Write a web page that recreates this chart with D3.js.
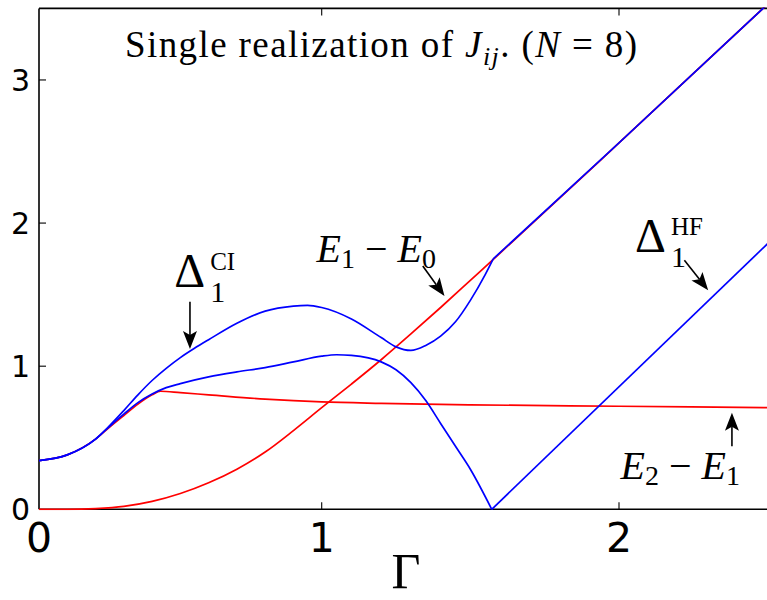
<!DOCTYPE html>
<html>
<head>
<meta charset="utf-8">
<script src="https://cdn.jsdelivr.net/npm/d3@7"></script>
<style>
  html, body { margin: 0; padding: 0; background: #fff; }
  svg { display: block; }
</style>
</head>
<body>
<svg id="chart" width="767" height="600"></svg>
<script>
// Ground-state gap E1 - E0 versus transverse field Γ
const e10Gamma = [0, 0.1, 0.2, 0.3, 0.4, 0.5, 0.6, 0.7, 0.8, 0.9, 1.0, 1.1, 1.2, 1.3, 1.4, 1.5, 1.6, 2.0, 2.5];
const e10Gap   = [0, 0, 0.005, 0.02, 0.055, 0.11, 0.185, 0.28, 0.40, 0.55, 0.71, 0.875, 1.045, 1.225, 1.41, 1.60, 1.79, 2.56, 3.53];

// Second gap E2 - E1
const e21Gamma = [0, 0.1, 0.2, 0.25, 0.3, 0.35, 0.4, 0.43, 0.5, 0.6, 0.8, 1.0, 1.2, 1.5, 2.0, 2.5];
const e21Gap   = [0.34, 0.38, 0.49, 0.575, 0.655, 0.735, 0.80, 0.825, 0.815, 0.80, 0.77, 0.75, 0.74, 0.73, 0.72, 0.71];

// Configuration-interaction gap Δ1^CI: smooth branch, then the branch on top of E1 - E0
const ciGamma = [0, 0.1, 0.2, 0.25, 0.3, 0.35, 0.4, 0.45, 0.5, 0.55, 0.6, 0.7, 0.8, 0.9, 0.95, 1.0, 1.1, 1.2, 1.25, 1.3, 1.35, 1.4, 1.45, 1.5, 1.55, 1.577];
const ciGap   = [0.34, 0.38, 0.49, 0.585, 0.69, 0.80, 0.90, 0.985, 1.06, 1.125, 1.185, 1.30, 1.385, 1.42, 1.425, 1.41, 1.33, 1.20, 1.135, 1.11, 1.145, 1.21, 1.31, 1.46, 1.64, 1.75];
const ciHighGamma = [1.577, 2.0, 2.5];
const ciHighGap   = [1.75, 2.56, 3.53];

// Hartree-Fock gap Δ1^HF: smooth branch up to the cusp, then the straight branch
const hfGamma = [0, 0.1, 0.2, 0.25, 0.3, 0.35, 0.4, 0.45, 0.5, 0.6, 0.7, 0.8, 0.9, 1.0, 1.05, 1.1, 1.2, 1.25, 1.3, 1.35, 1.4, 1.45, 1.5, 1.572];
const hfGap   = [0.34, 0.38, 0.49, 0.58, 0.665, 0.745, 0.805, 0.85, 0.878, 0.925, 0.96, 0.99, 1.03, 1.07, 1.08, 1.075, 1.03, 0.975, 0.885, 0.76, 0.60, 0.44, 0.28, 0];
const hfLineGamma = [1.572, 2.5];
const hfLineGap   = [0, 1.856];

const xTicks = [0, 1, 2];
const yTicks = [0, 1, 2, 3];

const W = 767, H = 600;
const plotLeft = 39, plotTop = 8.4, plotBottom = 509.3, plotRight = 767.6;

const svg = d3.select("#chart");

// the Γ axis is drawn piecewise between its labelled ticks
const x = d3.scaleLinear().domain([0, 1, 2, 2.5]).range([plotLeft, 321.7, 619, plotRight]);
const y = d3.scaleLinear().domain([0, 3.5]).range([plotBottom, plotTop]);

svg.append("defs").append("clipPath").attr("id", "plot")
  .append("rect").attr("x", plotLeft).attr("y", plotTop - 1)
  .attr("width", plotRight - plotLeft).attr("height", plotBottom - plotTop + 2);

// frame
const frame = svg.append("g").attr("stroke", "#000").attr("stroke-width", 1.6).attr("fill", "none");
frame.append("line").attr("x1", plotLeft).attr("x2", plotLeft).attr("y1", plotTop).attr("y2", plotBottom);
frame.append("line").attr("x1", plotLeft).attr("x2", W).attr("y1", plotTop).attr("y2", plotTop);
frame.append("line").attr("x1", plotLeft).attr("x2", W).attr("y1", plotBottom).attr("y2", plotBottom);

// inward ticks
const tickG = svg.append("g").attr("stroke", "#000").attr("stroke-width", 1.1);
xTicks.filter(d => d > 0).forEach(d => {
  tickG.append("line").attr("x1", x(d)).attr("x2", x(d)).attr("y1", plotBottom).attr("y2", plotBottom - 7);
  tickG.append("line").attr("x1", x(d)).attr("x2", x(d)).attr("y1", plotTop).attr("y2", plotTop + 7);
});
yTicks.filter(d => d > 0).forEach(d => {
  tickG.append("line").attr("x1", plotLeft).attr("x2", plotLeft + 7).attr("y1", y(d)).attr("y2", y(d));
});

// tick labels
svg.append("g").selectAll("text").data(xTicks).join("text")
  .attr("x", d => x(d)).attr("y", 552)
  .attr("text-anchor", "middle")
  .attr("font-family", "DejaVu Sans").attr("font-size", 41)
  .text(d => d);
svg.append("g").selectAll("text").data(yTicks).join("text")
  .attr("x", 30).attr("y", d => y(d) + 11)
  .attr("text-anchor", "end")
  .attr("font-family", "DejaVu Sans").attr("font-size", 30)
  .text(d => d);

// axis title
svg.append("text").attr("x", 406).attr("y", 588)
  .attr("text-anchor", "middle")
  .attr("font-family", "Liberation Serif").attr("font-size", 50)
  .text("Γ");

// curves
const smooth = d3.line().x(d => x(d[0])).y(d => y(d[1])).curve(d3.curveMonotoneX);
const straight = d3.line().x(d => x(d[0])).y(d => y(d[1]));
const curves = svg.append("g").attr("clip-path", "url(#plot)")
  .attr("fill", "none").attr("stroke-width", 1.7).attr("stroke-linejoin", "round");

curves.append("path").datum(d3.zip(e10Gamma, e10Gap)).attr("d", smooth).attr("stroke", "#ff0000");
curves.append("path").datum(d3.zip(e21Gamma, e21Gap)).attr("d", smooth).attr("stroke", "#ff0000");
curves.append("path").datum(d3.zip(hfGamma, hfGap)).attr("d", smooth).attr("stroke", "#0000ff");
curves.append("path").datum(d3.zip(hfLineGamma, hfLineGap)).attr("d", straight).attr("stroke", "#0000ff");
curves.append("path").datum(d3.zip(ciGamma, ciGap)).attr("d", smooth).attr("stroke", "#0000ff");
curves.append("path").datum(d3.zip(ciHighGamma, ciHighGap)).attr("d", straight).attr("stroke", "#0000ff");

// annotation arrows, given in data coordinates
function arrow(g0, v0, g1, v1) {
  const x0 = x(g0), y0 = y(v0), x1 = x(g1), y1 = y(v1);
  const ang = Math.atan2(y1 - y0, x1 - x0);
  const L = 18, Wd = 14, notch = 14;
  const ca = Math.cos(ang), sa = Math.sin(ang);
  const pt = (a, b) => [x1 - a * ca - b * -sa, y1 - a * sa - b * ca];
  const sx = x1 - notch * ca, sy = y1 - notch * sa;
  svg.append("line").attr("x1", x0).attr("y1", y0).attr("x2", sx).attr("y2", sy)
    .attr("stroke", "#000").attr("stroke-width", 1.6);
  const p = [[x1, y1], pt(L, Wd / 2), [sx, sy], pt(L, -Wd / 2)];
  svg.append("path").attr("d", "M" + p.map(q => q.join(",")).join("L") + "Z").attr("fill", "#000");
}
arrow(0.534, 1.45, 0.534, 1.12);   // Δ1^CI
arrow(1.34, 1.70, 1.413, 1.49);    // E1 - E0
arrow(2.22, 1.74, 2.30, 1.53);     // Δ1^HF
arrow(2.38, 0.44, 2.38, 0.675);    // E2 - E1

const serif = "Liberation Serif";

// title
const title = svg.append("text").attr("x", 125).attr("y", 57)
  .attr("font-family", serif).attr("font-size", 37).attr("letter-spacing", 1.4);
title.append("tspan").text("Single realization of ");
title.append("tspan").attr("font-style", "italic").text("J");
title.append("tspan").attr("font-style", "italic").attr("font-size", 26).attr("dy", 8).text("ij");
title.append("tspan").attr("dy", -8).text(". (");
title.append("tspan").attr("font-style", "italic").text("N");
title.append("tspan").text(" = 8)");

// Δ labels: superscript and subscript stacked after the Δ
function deltaLabel(px, py, sup) {
  const t = svg.append("text").attr("x", px).attr("y", py).attr("font-family", serif);
  t.append("tspan").attr("font-size", 48).text("Δ");
  t.append("tspan").attr("x", px + 36).attr("y", py - 17).attr("font-size", 25).text(sup);
  t.append("tspan").attr("x", px + 36).attr("y", py + 15).attr("font-size", 30).text("1");
}
deltaLabel(x(0.478), y(1.555), "CI");
deltaLabel(x(2.054), y(1.795), "HF");

// energy difference labels
function diffLabel(px, py, a, b) {
  const t = svg.append("text").attr("x", px).attr("y", py)
    .attr("font-family", serif).attr("font-size", 40);
  t.append("tspan").attr("font-style", "italic").text("E");
  t.append("tspan").attr("font-size", 28).attr("dy", 6).text(a);
  t.append("tspan").attr("dy", -6).text(" − ");
  t.append("tspan").attr("font-style", "italic").text("E");
  t.append("tspan").attr("font-size", 28).attr("dy", 6).text(b);
}
diffLabel(x(0.982), y(1.73), "1", "0");
diffLabel(x(2.005), y(0.212), "2", "1");
</script>
</body>
</html>
